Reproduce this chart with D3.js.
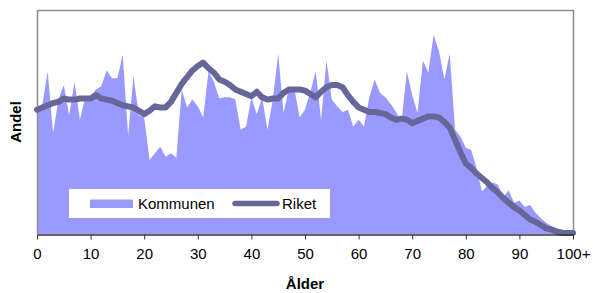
<!DOCTYPE html>
<html><head><meta charset="utf-8">
<script src="https://cdn.jsdelivr.net/npm/d3@7"></script>
<style>
html,body{margin:0;padding:0;background:#fff;}
svg{display:block;font-family:"Liberation Sans",Arial,sans-serif;}
</style></head>
<body><svg id="c" width="593" height="293"></svg>
<script>
const ages = d3.range(0, 101);
const tickValues = [0,10,20,30,40,50,60,70,80,90,100];
const tickLabels = ["0","10","20","30","40","50","60","70","80","90","100+"];
const seriesNames = ["Kommunen","Riket"];
const kommunen = [1.12,1.16,1.45,0.90,1.20,1.33,1.06,1.36,1.02,1.22,
1.23,1.29,1.32,1.46,1.39,1.39,1.60,0.88,1.41,1.06,
1.04,0.66,0.72,0.78,0.69,0.72,0.68,1.29,1.13,1.20,
1.14,1.04,1.45,1.36,1.21,1.22,1.22,1.20,0.93,0.96,
1.22,1.07,1.22,0.93,1.20,1.61,1.08,1.30,1.30,1.04,
1.11,1.27,1.45,1.02,1.55,1.20,1.14,1.09,1.11,0.96,
1.02,0.96,1.22,1.38,1.26,1.22,1.16,1.09,1.00,1.45,
1.24,1.08,1.55,1.44,1.78,1.63,1.38,1.61,0.93,0.87,
0.77,0.75,0.59,0.38,0.43,0.46,0.44,0.33,0.39,0.28,
0.30,0.24,0.26,0.19,0.14,0.10,0.07,0.05,0.04,0.02,0.01];
const riket = [1.11,1.13,1.15,1.17,1.18,1.21,1.20,1.20,1.21,1.21,
1.21,1.24,1.21,1.20,1.19,1.17,1.15,1.14,1.13,1.10,
1.07,1.10,1.14,1.13,1.13,1.18,1.26,1.34,1.40,1.46,
1.50,1.53,1.48,1.44,1.38,1.36,1.33,1.29,1.27,1.25,
1.23,1.27,1.22,1.20,1.21,1.21,1.26,1.29,1.29,1.29,
1.28,1.25,1.22,1.27,1.31,1.33,1.33,1.31,1.24,1.18,
1.13,1.11,1.09,1.09,1.08,1.07,1.04,1.02,1.03,1.02,
0.99,1.01,1.03,1.05,1.05,1.04,1.00,0.95,0.84,0.73,
0.63,0.59,0.54,0.50,0.46,0.41,0.37,0.32,0.28,0.24,
0.21,0.17,0.13,0.11,0.08,0.05,0.04,0.02,0.01,0.01,0.01];

const svg = d3.select("#c");
const L = 37, R = 573, T = 10, B = 234;
const x = d3.scaleLinear().domain([0,100]).range([L,R]);
const y = d3.scaleLinear().domain([0,2]).range([B,T]);

// area
svg.append("path")
  .datum(ages)
  .attr("fill","#9999ff")
  .attr("d", d3.area().x(a=>x(a)).y0(y(0)).y1(a=>y(kommunen[a])));

// plot frame
svg.append("path")
  .attr("d", `M${L+0.5},${B}V${T+0.5}H${R+0.5}V${B}`)
  .attr("fill","none").attr("stroke","#8c8c8c").attr("stroke-width",1.5);

// line
svg.append("path")
  .datum(ages)
  .attr("fill","none").attr("stroke","#666699").attr("stroke-width",6)
  .attr("stroke-linejoin","round").attr("stroke-linecap","round")
  .attr("d", d3.line().x(a=>x(a)).y(a=>y(riket[a])));

// x axis
const ax = svg.append("g").attr("transform",`translate(0,${B+0.5})`)
  .call(d3.axisBottom(x).tickValues(tickValues).tickFormat((d,i)=>tickLabels[i]).tickSize(5).tickSizeOuter(0));
ax.select(".domain").attr("stroke","#333").attr("stroke-width",1.5);
ax.selectAll(".tick line").attr("stroke","#333");
ax.selectAll(".tick text").attr("font-size",15).attr("fill","#000").attr("y",10).attr("dy","0.95em")
  .attr("font-family","Liberation Sans, Arial, sans-serif");

// axis titles
svg.append("text").attr("x",(L+R)/2).attr("y",289).attr("text-anchor","middle")
  .attr("font-size",15).attr("font-weight","bold").text("Ålder");
svg.append("text").attr("transform",`translate(21,${(T+B)/2}) rotate(-90)`)
  .attr("text-anchor","middle").attr("font-size",15).attr("font-weight","bold").text("Andel");

// legend
const lg = svg.append("g");
lg.append("rect").attr("x",69).attr("y",189).attr("width",261).attr("height",29).attr("fill","#fff");
lg.append("rect").attr("x",90).attr("y",199.5).attr("width",43).attr("height",8.5).attr("fill","#9999ff");
lg.append("text").attr("x",138).attr("y",209).attr("font-size",15).text(seriesNames[0]);
lg.append("line").attr("x1",235).attr("x2",277).attr("y1",203.5).attr("y2",203.5)
  .attr("stroke","#666699").attr("stroke-width",5.5).attr("stroke-linecap","round");
lg.append("text").attr("x",282).attr("y",209).attr("font-size",15).text(seriesNames[1]);
</script></body></html>
